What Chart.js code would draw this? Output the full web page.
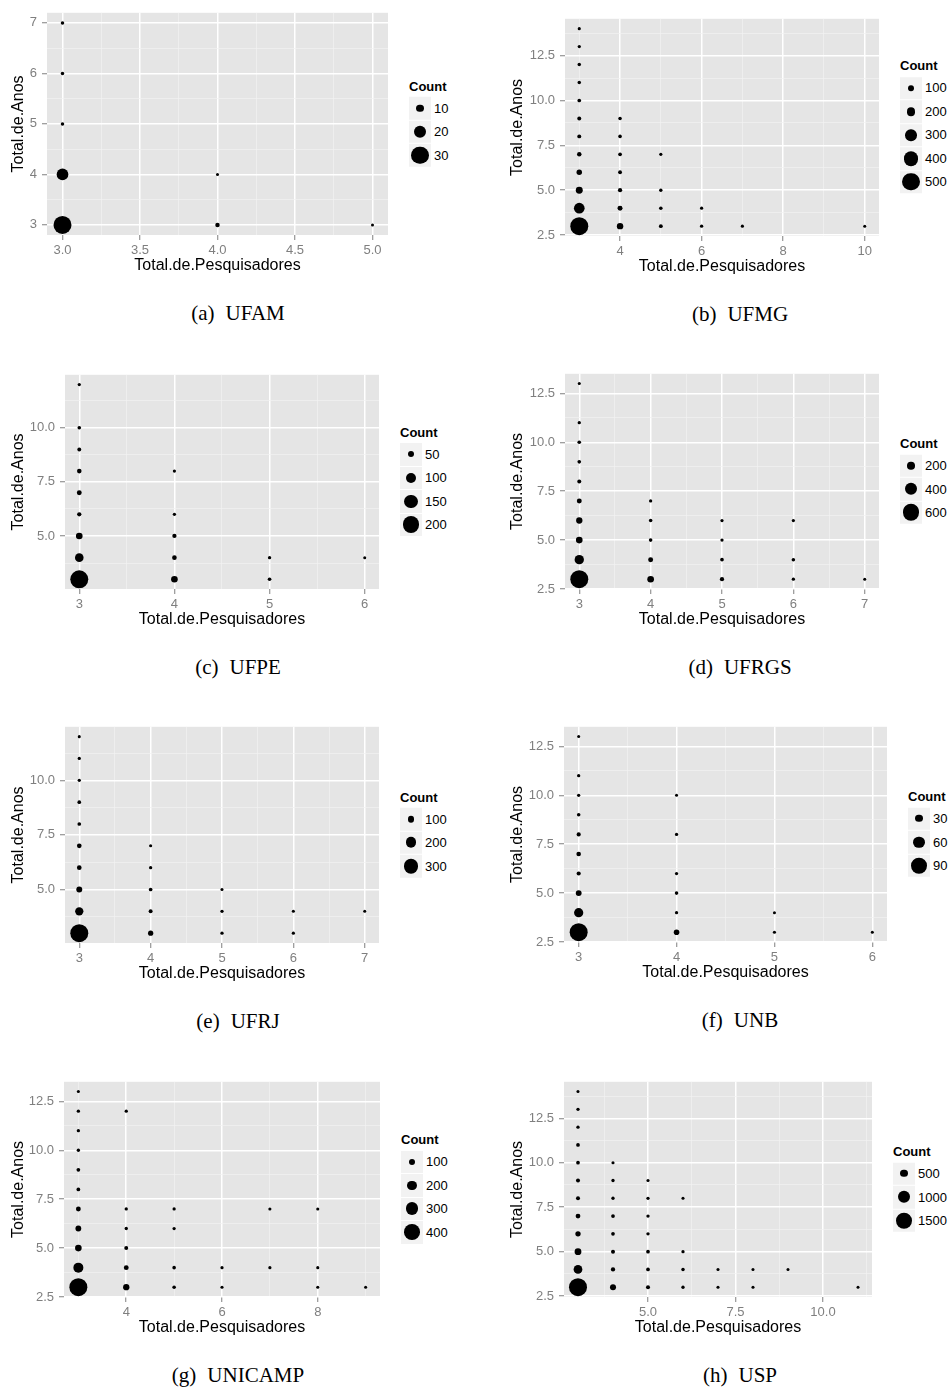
<!DOCTYPE html>
<html>
<head>
<meta charset="utf-8">
<script src="https://cdn.jsdelivr.net/npm/chart.js@4"></script>
<style>
html, body { margin: 0; padding: 0; background: #fff; }
body { width: 952px; height: 1391px; position: relative; overflow: hidden; font-family: "Liberation Sans", Arial, sans-serif; }
.legend { position: absolute; transform: translateY(-50%); color: #000; }
.legend .ttl { font-weight: bold; font-size: 13px; margin-bottom: 3px; }
.key { display: flex; align-items: center; height: 23.5px; }
.box { width: 22px; height: 22.5px; background: #f2f2f2; display: flex; align-items: center; justify-content: center; }
.dot { background: #000; border-radius: 50%; }
.key span { font-size: 13px; margin-left: 3px; white-space: nowrap; }
.cap { position: absolute; font-family: "Liberation Serif", "Times New Roman", serif; font-size: 21px; transform: translate(-50%, -50%); white-space: nowrap; }
</style>
</head>
<body>
<script>
// count of groups per (Total.de.Pesquisadores, Total.de.Anos)
const ufamX = [3,3,3,3,3,4,4,5];
const ufamY = [3,4,5,6,7,3,4,3];
const ufamCount = [32,19,2,2,2,4,1,1];
const ufamBreaks = [10,20,30];
const ufamXTicks = ['3.0','3.5','4.0','4.5','5.0'];
const ufamYTicks = ['3','4','5','6','7'];

const ufmgX = [3,3,3,3,3,3,3,3,3,3,3,3, 4,4,4,4,4,4,4, 5,5,5,5, 6,6, 7, 10];
const ufmgY = [3,4,5,6,7,8,9,10,11,12,13,14, 3,4,5,6,7,8,9, 3,4,5,7, 3,4, 3, 3];
const ufmgCount = [520,267,139,87,52,35,35,25,18,18,10,6, 120,70,45,30,25,22,20, 30,20,15,8, 12,8, 6, 1];
const ufmgBreaks = [100,200,300,400,500];
const ufmgXTicks = ['4','6','8','10'];
const ufmgYTicks = ['2.5','5.0','7.5','10.0','12.5'];

const ufpeX = [3,3,3,3,3,3,3,3,3, 4,4,4,4,4, 5,5, 6];
const ufpeY = [3,4,5,6,7,8,9,10,12, 3,4,5,6,8, 3,4, 4];
const ufpeCount = [215,81,53,19,28,24,14,10,5, 53,24,19,5,4, 10,5, 1];
const ufpeBreaks = [50,100,150,200];
const ufpeXTicks = ['3','4','5','6'];
const ufpeYTicks = ['5.0','7.5','10.0'];

const ufrgsX = [3,3,3,3,3,3,3,3,3,3, 4,4,4,4,4, 5,5,5,5, 6,6,6, 7];
const ufrgsY = [3,4,5,6,7,8,9,10,11,13, 3,4,5,6,7, 3,4,5,6, 3,4,6, 3];
const ufrgsCount = [650,275,160,145,87,45,30,30,15,5, 160,87,30,25,12, 55,30,15,12, 15,25,12, 2];
const ufrgsBreaks = [200,400,600];
const ufrgsXTicks = ['3','4','5','6','7'];
const ufrgsYTicks = ['2.5','5.0','7.5','10.0','12.5'];

const ufrjX = [3,3,3,3,3,3,3,3,3,3, 4,4,4,4,4, 5,5,5, 6,6, 7];
const ufrjY = [3,4,5,6,7,8,9,10,11,12, 3,4,5,6,7, 3,4,5, 3,4, 4];
const ufrjCount = [380,134,76,43,43,18,18,8,8,2, 58,25,18,8,3, 8,8,3, 6,3, 1];
const ufrjBreaks = [100,200,300];
const ufrjXTicks = ['3','4','5','6','7'];
const ufrjYTicks = ['5.0','7.5','10.0'];

const unbX = [3,3,3,3,3,3,3,3,3,3, 4,4,4,4,4,4, 5,5, 6];
const unbY = [3,4,5,6,7,8,9,10,11,13, 3,4,5,6,8,10, 3,4, 3];
const unbCount = [105,44,21,9,12,9,5,3,3,1, 19,3,5,3,3,1, 2,1, 1];
const unbBreaks = [30,60,90];
const unbXTicks = ['3','4','5','6'];
const unbYTicks = ['2.5','5.0','7.5','10.0','12.5'];

const unicampX = [3,3,3,3,3,3,3,3,3,3,3, 4,4,4,4,4,4, 5,5,5,5, 6,6, 7,7, 8,8,8, 9];
const unicampY = [3,4,5,6,7,8,9,10,11,12,13, 3,4,5,6,7,12, 3,4,6,7, 3,4, 4,7, 3,4,7, 3];
const unicampCount = [470,220,115,90,60,25,25,12,12,12,3, 105,60,32,12,12,10, 20,20,10,10, 5,8, 8,5, 5,5,5, 2];
const unicampBreaks = [100,200,300,400];
const unicampXTicks = ['4','6','8'];
const unicampYTicks = ['2.5','5.0','7.5','10.0','12.5'];

const uspX = [3,3,3,3,3,3,3,3,3,3,3,3, 4,4,4,4,4,4,4,4, 5,5,5,5,5,5,5, 6,6,6,6, 7,7, 8,8, 9, 11];
const uspY = [3,4,5,6,7,8,9,10,11,12,13,14, 3,4,5,6,7,8,9,10, 3,4,5,6,7,8,9, 3,4,5,8, 3,4, 3,4, 4, 3];
const uspCount = [1700,650,430,265,200,115,115,80,80,40,40,10, 345,150,115,80,80,40,40,15, 115,80,80,40,40,30,15, 40,60,30,10, 12,12, 10,10, 5, 1];
const uspBreaks = [500,1000,1500];
const uspXTicks = ['5.0','7.5','10.0'];
const uspYTicks = ['2.5','5.0','7.5','10.0','12.5'];

const panels = [
  {tag: '(a)', name: 'UFAM', xs: ufamX, ys: ufamY, counts: ufamCount, breaks: ufamBreaks, xTicks: ufamXTicks, yTicks: ufamYTicks,
   col: 0, area: {l: 47, t: 4, r: 389, b: 235}, yTitle: 19, capX: 238},
  {tag: '(b)', name: 'UFMG', xs: ufmgX, ys: ufmgY, counts: ufmgCount, breaks: ufmgBreaks, xTicks: ufmgXTicks, yTicks: ufmgYTicks,
   col: 476, area: {l: 565, t: 10, r: 880, b: 236}, yTitle: 518, capX: 740},
  {tag: '(c)', name: 'UFPE', xs: ufpeX, ys: ufpeY, counts: ufpeCount, breaks: ufpeBreaks, xTicks: ufpeXTicks, yTicks: ufpeYTicks,
   col: 0, area: {l: 65, t: 366, r: 380, b: 589}, yTitle: 19, capX: 238},
  {tag: '(d)', name: 'UFRGS', xs: ufrgsX, ys: ufrgsY, counts: ufrgsCount, breaks: ufrgsBreaks, xTicks: ufrgsXTicks, yTicks: ufrgsYTicks,
   col: 476, area: {l: 565, t: 365, r: 880, b: 589}, yTitle: 518, capX: 740},
  {tag: '(e)', name: 'UFRJ', xs: ufrjX, ys: ufrjY, counts: ufrjCount, breaks: ufrjBreaks, xTicks: ufrjXTicks, yTicks: ufrjYTicks,
   col: 0, area: {l: 65, t: 718, r: 380, b: 943}, yTitle: 19, capX: 238},
  {tag: '(f)', name: 'UNB', xs: unbX, ys: unbY, counts: unbCount, breaks: unbBreaks, xTicks: unbXTicks, yTicks: unbYTicks,
   col: 476, area: {l: 564, t: 718, r: 888, b: 942}, yTitle: 518, capX: 740},
  {tag: '(g)', name: 'UNICAMP', xs: unicampX, ys: unicampY, counts: unicampCount, breaks: unicampBreaks, xTicks: unicampXTicks, yTicks: unicampYTicks,
   col: 0, area: {l: 64, t: 1073, r: 381, b: 1297}, yTitle: 19, capX: 238},
  {tag: '(h)', name: 'USP', xs: uspX, ys: uspY, counts: uspCount, breaks: uspBreaks, xTicks: uspXTicks, yTicks: uspYTicks,
   col: 476, area: {l: 564, t: 1073, r: 873, b: 1297}, yTitle: 518, capX: 740},
];

Chart.defaults.font.family = '"Liberation Sans", Arial, sans-serif';

// grey panel behind the grid
const panelBg = {
  id: 'panelBg',
  beforeDraw(chart) {
    const {ctx, chartArea: a} = chart;
    ctx.save();
    ctx.fillStyle = '#e5e5e5';
    ctx.fillRect(a.left, a.top, a.right - a.left, a.bottom - a.top);
    ctx.restore();
  }
};

// ggplot style size scale: diameter linear in count
function sizeScale(counts) {
  const lo = Math.min(...counts), hi = Math.max(...counts);
  return v => 1.5 + (v - lo) / (hi - lo) * 7.5;
}

function expand(vals) {
  const lo = Math.min(...vals), hi = Math.max(...vals), pad = (hi - lo) * 0.05;
  return [lo - pad, hi + pad];
}

// major ticks from the labels, minor ticks halfway between
function withMinors(labels, lo, hi) {
  const major = labels.map(s => ({value: parseFloat(s), lbl: s}));
  const step = major[1].value - major[0].value;
  const out = major.slice();
  for (let i = 0; i <= major.length; i++) {
    out.push({value: major[0].value + (i - 0.5) * step, lbl: ''});
  }
  return out.filter(t => t.value >= lo - 1e-9 && t.value <= hi + 1e-9).sort((a, b) => a.value - b.value);
}

function axisOpts(range, labels, title, titlePad, tickPad, fit) {
  const ticks = withMinors(labels, range[0], range[1]);
  return {
    type: 'linear',
    min: range[0],
    max: range[1],
    bounds: 'data',
    afterBuildTicks: s => { s.ticks = ticks.map(t => ({...t})); },
    afterFit: fit,
    border: {display: false},
    grid: {
      color: c => (c.tick && c.tick.lbl) ? '#ffffff' : '#f2f2f2',
      lineWidth: c => (c.tick && c.tick.lbl) ? 1.5 : 0.7,
      tickColor: c => (c.tick && c.tick.lbl) ? '#7f7f7f' : 'rgba(0,0,0,0)',
      tickLength: 5,
      tickWidth: 1
    },
    ticks: {
      autoSkip: false,
      maxRotation: 0,
      color: '#7f7f7f',
      font: {size: 13},
      padding: tickPad,
      callback: (v, i, arr) => arr[i].lbl
    },
    title: {display: true, text: title, color: '#000', font: {size: 16}, padding: titlePad}
  };
}

panels.forEach(p => {
  const a = p.area;
  const top = a.t - 4;
  const w = a.r + 8 - p.col, h = a.b + 45 - top;
  const size = sizeScale(p.counts);

  const cv = document.createElement('canvas');
  cv.width = w;
  cv.height = h;
  cv.style.cssText = `position:absolute;left:${p.col}px;top:${top}px;width:${w}px;height:${h}px`;
  document.body.appendChild(cv);

  const points = p.xs.map((x, i) => ({x: x, y: p.ys[i], r: size(p.counts[i])}));

  new Chart(cv, {
    type: 'bubble',
    data: {
      datasets: [{
        label: 'Count',
        data: points,
        backgroundColor: '#000',
        borderWidth: 0,
        hoverRadius: 0,
        hoverBorderWidth: 0
      }]
    },
    options: {
      responsive: false,
      animation: false,
      events: [],
      layout: {padding: {top: 4, right: 8, left: 0, bottom: 0}},
      scales: {
        x: axisOpts(expand(p.xs), p.xTicks, 'Total.de.Pesquisadores', {top: 0, bottom: 4.4}, 3,
          s => { s.height = 45; }),
        y: axisOpts(expand(p.ys), p.yTicks, 'Total.de.Anos', {top: p.yTitle - p.col - 9.6, bottom: 0}, 5,
          s => { s.width = a.l - p.col; })
      },
      plugins: {
        legend: {display: false},
        tooltip: {enabled: false}
      }
    },
    plugins: [panelBg]
  });

  const lg = document.createElement('div');
  lg.className = 'legend';
  lg.style.left = (a.r + 20) + 'px';
  lg.style.top = ((a.t + a.b) / 2 + 3) + 'px';
  lg.innerHTML = '<div class="ttl">Count</div>' + p.breaks.map(b => {
    const d = 2 * size(b);
    return `<div class="key"><div class="box"><div class="dot" style="width:${d}px;height:${d}px"></div></div><span>${b}</span></div>`;
  }).join('');
  document.body.appendChild(lg);

  const cap = document.createElement('div');
  cap.className = 'cap';
  cap.style.left = p.capX + 'px';
  cap.style.top = (a.b + 78) + 'px';
  cap.innerHTML = `${p.tag}<span style="display:inline-block;width:11px"></span>${p.name}`;
  document.body.appendChild(cap);
});
</script>
</body>
</html>
